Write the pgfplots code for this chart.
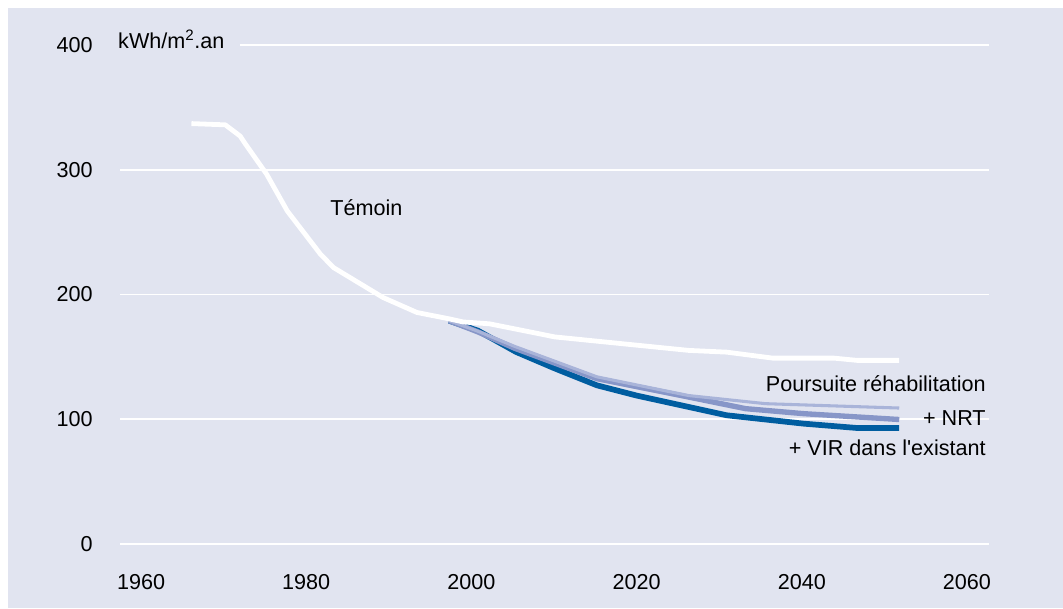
\documentclass[border=0pt]{standalone}
\usepackage{fontspec}
\setmainfont{Liberation Sans}[Ligatures=TeXOff]
\usepackage{pgfplots}
\pgfplotsset{compat=1.18}
\definecolor{bgcol}{RGB}{225,228,240}
\definecolor{darkb}{RGB}{0,93,160}
\definecolor{medb}{RGB}{135,150,200}
\definecolor{lightb}{RGB}{169,180,217}
\begin{document}
\fontsize{16.2}{19}\selectfont
\begin{tikzpicture}
\path[use as bounding box] (0,0) rectangle (797.25pt,-456pt);
\fill[bgcol] (6pt,-6pt) rectangle (797.25pt,-456pt);
\begin{axis}[
  at={(90pt,-408pt)}, anchor=south west,
  scale only axis, width=651.75pt, height=374.25pt,
  xmin=1957.45, xmax=2062.67, ymin=0, ymax=400,
  xtick={1960,1980,...,2060}, ytick={0,100,...,400},
  axis line style={draw=none}, tick style={draw=none},
  ymajorgrids, grid style={white, line width=1.4pt},
  /pgf/number format/assume math mode=true,
  /pgf/number format/1000 sep={},
  ticklabel style={font=\fontsize{16.2}{19}\selectfont},
  xticklabel style={anchor=north, inner sep=0pt, yshift=-22.5pt},
  yticklabel style={anchor=east, inner sep=0pt, xshift=-20.25pt},
  clip=false,
]
\fill[bgcol] (axis cs:1957.2,395) rectangle (axis cs:1972,405);
\node[anchor=base west, inner sep=0pt] at (axis cs:1957.2,397.3) {kWh/m\textsuperscript{2}.an};
\addplot[darkb, line width=4.3pt, line join=round] coordinates {
(1997.3,179) (2000.8,171) (2005.4,154) (2010,141) (2015.2,127.2) (2020,119)
(2030.9,103.2) (2040.2,96.5) (2046.7,93) (2051.8,93)};
\addplot[medb, line width=4pt, line join=round] coordinates {
(1997.3,179) (2000.8,170) (2005.2,157) (2015.2,132.5) (2026.3,117.8)
(2033.2,108.5) (2040.2,104.5) (2051.8,99.8)};
\addplot[lightb, line width=2.3pt, line join=round] coordinates {
(1997.3,179) (2000.8,170.5) (2005.2,158.5) (2015.2,134) (2026.3,119)
(2035.6,112.5) (2051.8,109)};
\addplot[white, line width=3.6pt, line join=round] coordinates {
(1966.1,337) (1970.2,336) (1972,327) (1972.6,321) (1975.2,296.5) (1977.7,267)
(1981.7,232.5) (1983.3,221.6) (1989.3,197.6) (1993.4,185.6) (1997.3,180.5)
(1999,178) (2002.2,176.5) (2010.1,166) (2026.3,155.2) (2030.9,153.8)
(2036.5,149) (2043.9,149) (2046.7,147.2) (2051.8,147.2)};
\node[anchor=base west, inner sep=0pt] at (axis cs:1982.9,263.2) {Témoin};
\node[anchor=base east, inner sep=0pt] at (axis cs:2062.3,122.4) {Poursuite réhabilitation};
\node[anchor=base east, inner sep=0pt] at (axis cs:2062.3,95.2) {+ NRT};
\node[anchor=base east, inner sep=0pt] at (axis cs:2062.3,70.6) {+ VIR dans l'existant};
\end{axis}
\end{tikzpicture}
\end{document}
